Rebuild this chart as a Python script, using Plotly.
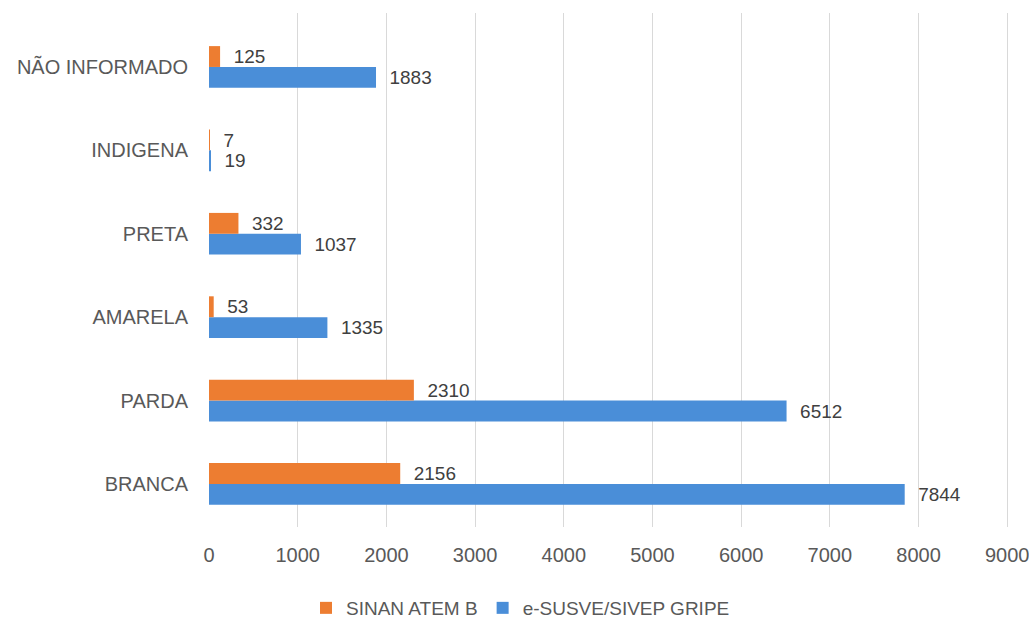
import plotly.graph_objects as go

categories = ["BRANCA", "PARDA", "AMARELA", "PRETA", "INDIGENA", "NÃO INFORMADO"]
sinan = [2156, 2310, 53, 332, 7, 125]
esus = [7844, 6512, 1335, 1037, 19, 1883]
x_ticks = [0, 1000, 2000, 3000, 4000, 5000, 6000, 7000, 8000, 9000]

FONT = "'Liberation Sans', Arial, sans-serif"
GRAY = "#595959"
PAD = "\u00a0\u00a0"

fig = go.Figure()
fig.add_trace(go.Bar(
    y=categories, x=esus, orientation="h", name="e-SUSVE/SIVEP GRIPE",
    marker=dict(color="#4A8ED8", line=dict(width=0)),
    text=[PAD + str(v) for v in esus], textposition="outside",
    textfont=dict(size=20, color="#404040", family=FONT),
    cliponaxis=False,
))
fig.add_trace(go.Bar(
    y=categories, x=sinan, orientation="h", name="SINAN ATEM B",
    marker=dict(color="#ED7D31", line=dict(width=0)),
    text=[PAD + str(v) for v in sinan], textposition="outside",
    textfont=dict(size=20, color="#404040", family=FONT),
    cliponaxis=False,
))

fig.update_layout(
    width=1029, height=619,
    barmode="group", bargap=0.5, bargroupgap=0,
    plot_bgcolor="white", paper_bgcolor="white",
    margin=dict(l=209, r=20, t=13, b=92, autoexpand=False),
    font=dict(family=FONT, color=GRAY, size=18),
    xaxis=dict(
        range=[0, 9020], tickvals=x_ticks, ticktext=[str(v) for v in x_ticks],
        showgrid=True, gridcolor="#D9D9D9", gridwidth=1,
        zeroline=False, showline=False, automargin=False,
        ticks="", ticklabelstandoff=14, ticklabeloverflow="allow",
        tickfont=dict(size=20, color=GRAY),
    ),
    yaxis=dict(
        range=[-0.516, 5.647],
        showgrid=False, zeroline=False, showline=False, automargin=False,
        ticks="", ticklabelstandoff=20,
        tickfont=dict(size=20, color=GRAY),
    ),
    legend=dict(
        orientation="h", traceorder="reversed",
        x=306 / 1029, xanchor="left", y=(619 - 608) / 619, yanchor="middle",
        xref="container", yref="container",
        font=dict(size=19, color=GRAY),
        itemwidth=30,
    ),
)

fig.write_html(
    "out.html",
    config={"displayModeBar": False},
    post_script="document.body.style.margin='0';document.body.style.overflow='hidden';",
)
